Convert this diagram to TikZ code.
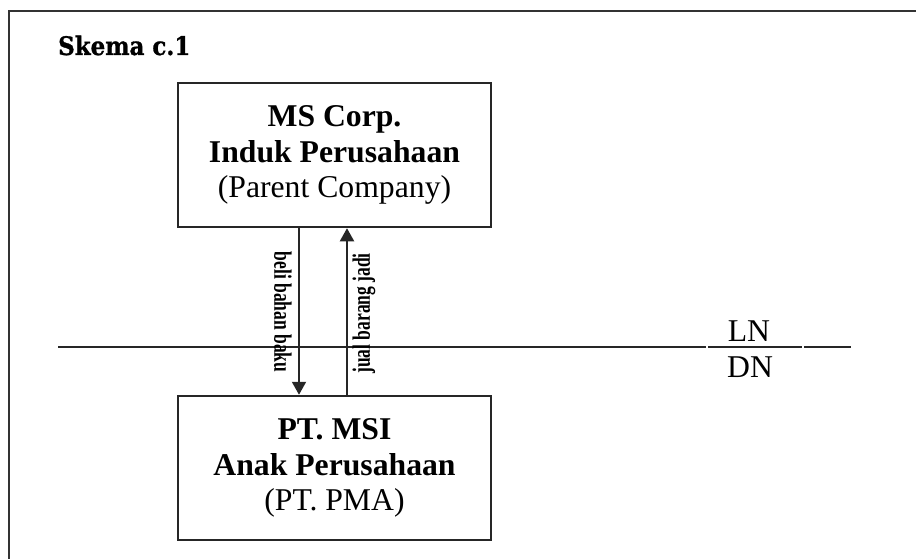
\documentclass[tikz,border=0pt]{standalone}
\usepackage{fontspec}
\setmainfont{Liberation Serif}
\newfontfamily\skemafont[FakeBold=1.2]{DejaVu Serif Bold}
\usetikzlibrary{positioning, arrows.meta}

\begin{document}
\begin{tikzpicture}[
  x=1pt, y=-1pt,
  >={Triangle[length=13pt, width=14pt]},
  every node/.style={inner sep=0pt}
]
\tikzset{
  box/.style  ={draw=black!85, line width=2.5pt, align=center,
                minimum width=313pt, minimum height=144pt,
                font=\fontsize{31.7}{35.5}\selectfont},
  arr/.style  ={->, line width=2pt, black!85},
  rule/.style ={line width=2pt, black!85},
  lab/.style  ={font=\fontsize{25}{28}\selectfont\bfseries},
  zone/.style ={font=\fontsize{31.7}{36}\selectfont}
}
\useasboundingbox (0,0) rectangle (916,559);
\clip (0,0) rectangle (916,559);

%% ----- Frame (runs on past the right and bottom edges) -----
\draw[line width=1.5pt, black!80] (9,11) rectangle (930,575);

%% ----- Title -----
\node[anchor=base west, font=\fontsize{25.5}{30}\skemafont]
  (title) at (58,55) {\scalebox{0.9}[1]{Skema c.1}};

%% ----- Parent and subsidiary -----
\node[box] (parent) at (334.5,155)
  {\textbf{MS Corp.}\\\textbf{Induk Perusahaan}\\(Parent Company)};
\node[box, below=166.5pt of parent] (child)
  {\textbf{PT. MSI}\\\textbf{Anak Perusahaan}\\(PT. PMA)};

%% ----- Border line LN / DN -----
\coordinate (bl) at (58,347);
\coordinate (br) at (851,347);
\node[zone, anchor=base] (ln) at (749,341) {LN};
\node[zone, anchor=base] (dn) at (750,377) {DN};
\coordinate (bar1) at (707,347);
\coordinate (bar2) at (803,347);
\draw[rule] (bl) -- ([xshift=-1pt]bar1);
\draw[rule] ([xshift=1pt]bar1) -- ([xshift=-1pt]bar2);
\draw[rule] ([xshift=1pt]bar2) -- (br);

%% ----- Flows -----
\draw[arr] ([xshift=-35.5pt]parent.south) -- ([xshift=-35.5pt]child.north);
\draw[arr] ([xshift=12.5pt]child.north) -- ([xshift=12.5pt]parent.south);
\node[lab, rotate=-90] (beli) at (283,312)
  {\scalebox{0.7}[1]{beli bahan baku}};
\node[lab, rotate=90] (jual) at (364,313.5)
  {\scalebox{0.7}[1]{jual barang jadi}};

\end{tikzpicture}
\end{document}
